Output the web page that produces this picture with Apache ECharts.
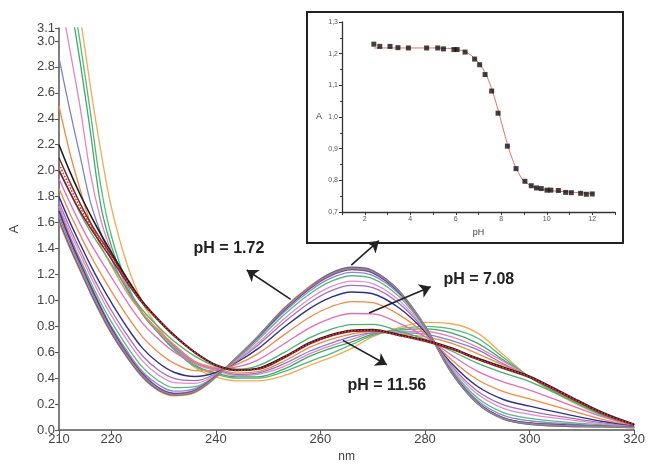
<!DOCTYPE html>
<html><head><meta charset="utf-8">
<script src="https://cdn.jsdelivr.net/npm/echarts@6/dist/echarts.min.js"></script>
<style>html,body{margin:0;padding:0;background:#fff}#c{width:648px;height:468px}</style>
</head><body><div id="c"></div>
<script>
// ---- main spectra: wavelength grid (nm)
const wavelengths = [210,212,214,216,218,220,223,226,229,232,236,240,244,248,253,258,262,266,270,275,280,285,290,295,300,307,314,320];

// acidic bundle (pH 1.72 ...)
const acid1 = [1.65,1.45,1.27,1.09,0.92,0.77,0.58,0.42,0.32,0.275,0.30,0.41,0.56,0.72,0.93,1.10,1.20,1.245,1.22,1.07,0.80,0.45,0.21,0.09,0.05,0.035,0.028,0.02];
const acid2 = [1.62,1.42,1.24,1.06,0.90,0.75,0.565,0.41,0.31,0.27,0.295,0.41,0.56,0.72,0.935,1.105,1.21,1.255,1.23,1.075,0.80,0.445,0.205,0.085,0.045,0.03,0.025,0.02];
const acid3 = [1.69,1.48,1.29,1.11,0.94,0.785,0.59,0.43,0.325,0.28,0.305,0.415,0.56,0.715,0.925,1.095,1.195,1.24,1.215,1.065,0.80,0.455,0.215,0.095,0.055,0.04,0.03,0.022];
const acid4 = [1.72,1.50,1.31,1.12,0.95,0.79,0.60,0.44,0.33,0.285,0.31,0.42,0.56,0.715,0.92,1.09,1.19,1.235,1.21,1.06,0.795,0.455,0.215,0.095,0.055,0.04,0.03,0.022];
const acid5 = [1.60,1.41,1.23,1.06,0.89,0.745,0.56,0.405,0.305,0.265,0.29,0.405,0.555,0.72,0.94,1.11,1.21,1.25,1.225,1.075,0.805,0.45,0.21,0.085,0.045,0.03,0.025,0.018];

// transition curves
const trans1 = [1.67,1.48,1.30,1.12,0.95,0.80,0.61,0.45,0.35,0.30,0.32,0.415,0.554,0.705,0.908,1.074,1.172,1.216,1.193,1.05,0.793,0.461,0.23,0.113,0.072,0.049,0.034,0.021];
const trans2 = [1.70,1.50,1.32,1.146,0.982,0.836,0.646,0.484,0.381,0.327,0.335,0.42,0.548,0.691,0.887,1.051,1.146,1.19,1.168,1.031,0.787,0.471,0.249,0.135,0.091,0.062,0.04,0.022];
const trans3 = [1.73,1.536,1.36,1.188,1.028,0.884,0.694,0.532,0.426,0.366,0.36,0.428,0.54,0.67,0.856,1.014,1.106,1.149,1.13,1.002,0.778,0.486,0.278,0.168,0.122,0.082,0.048,0.024];
const trans4 = [1.758,1.566,1.392,1.222,1.066,0.924,0.734,0.571,0.463,0.398,0.381,0.434,0.533,0.653,0.83,0.984,1.073,1.115,1.099,0.978,0.77,0.499,0.302,0.195,0.147,0.098,0.056,0.025];
const trans5 = [1.80,1.611,1.439,1.274,1.123,0.984,0.794,0.63,0.519,0.446,0.413,0.444,0.523,0.626,0.791,0.939,1.024,1.065,1.051,0.943,0.759,0.518,0.338,0.236,0.185,0.123,0.066,0.028];
const trans6 = [1.862,1.678,1.509,1.35,1.206,1.072,0.882,0.717,0.601,0.516,0.459,0.458,0.507,0.588,0.734,0.872,0.951,0.991,0.982,0.89,0.742,0.545,0.39,0.297,0.241,0.16,0.082,0.031];
const trans7 = [1.938,1.76,1.594,1.443,1.309,1.18,0.99,0.823,0.702,0.603,0.516,0.475,0.488,0.54,0.664,0.79,0.862,0.899,0.896,0.825,0.721,0.58,0.455,0.371,0.309,0.204,0.101,0.034];
const trans8 = [2.01,1.837,1.675,1.531,1.406,1.283,1.093,0.924,0.797,0.685,0.57,0.491,0.47,0.495,0.597,0.713,0.777,0.813,0.815,0.764,0.701,0.612,0.516,0.441,0.374,0.247,0.12,0.038];

// basic bundle (pH 11.56 ...)
const basic1 = [2.05,1.88,1.72,1.58,1.46,1.34,1.15,0.98,0.85,0.73,0.60,0.50,0.46,0.47,0.56,0.67,0.73,0.765,0.77,0.73,0.69,0.63,0.55,0.48,0.41,0.27,0.13,0.04];
const basic2 = [2.20,2.00,1.82,1.66,1.51,1.37,1.17,0.99,0.855,0.735,0.60,0.50,0.46,0.475,0.565,0.675,0.735,0.77,0.775,0.735,0.695,0.635,0.555,0.485,0.415,0.275,0.135,0.045];
const basic3 = [2.00,1.84,1.69,1.56,1.44,1.32,1.14,0.975,0.845,0.725,0.595,0.50,0.465,0.47,0.555,0.665,0.725,0.76,0.765,0.73,0.685,0.625,0.545,0.475,0.405,0.265,0.125,0.04];
const basic4 = [2.10,1.92,1.75,1.60,1.47,1.35,1.16,0.985,0.85,0.73,0.60,0.505,0.465,0.475,0.56,0.67,0.73,0.765,0.77,0.735,0.69,0.63,0.55,0.48,0.41,0.27,0.13,0.042];

// extreme curves
const extOrange  = [4.2,3.7,3.2,2.65,2.15,1.72,1.28,0.98,0.79,0.64,0.48,0.41,0.38,0.38,0.42,0.50,0.56,0.63,0.72,0.79,0.83,0.82,0.75,0.58,0.41,0.24,0.11,0.04];
const extGreen1  = [4.0,3.5,3.0,2.45,1.88,1.50,1.13,0.90,0.75,0.62,0.49,0.43,0.40,0.40,0.45,0.53,0.59,0.66,0.73,0.78,0.80,0.78,0.71,0.56,0.41,0.25,0.11,0.04];
const extGreen2  = [3.9,3.35,2.85,2.3,1.73,1.42,1.10,0.89,0.75,0.63,0.50,0.44,0.41,0.41,0.47,0.57,0.63,0.68,0.74,0.77,0.78,0.75,0.67,0.54,0.41,0.25,0.12,0.04];
const extPink    = [3.4,2.95,2.5,1.98,1.62,1.38,1.10,0.90,0.76,0.64,0.51,0.46,0.42,0.43,0.49,0.59,0.65,0.70,0.75,0.76,0.76,0.72,0.64,0.53,0.41,0.26,0.12,0.04];
const extBlue    = [2.87,2.48,2.12,1.76,1.52,1.32,1.08,0.90,0.77,0.65,0.52,0.47,0.43,0.44,0.51,0.61,0.67,0.72,0.75,0.75,0.74,0.69,0.62,0.51,0.41,0.26,0.12,0.04];
const extOrange2 = [2.5,2.15,1.86,1.60,1.42,1.27,1.06,0.90,0.77,0.66,0.53,0.48,0.44,0.45,0.53,0.64,0.70,0.74,0.76,0.74,0.72,0.67,0.59,0.50,0.41,0.26,0.13,0.04];

// axis ticks
const xTicks = [210,220,240,260,280,300,320];
const yTicks = [0,0.2,0.4,0.6,0.8,1.0,1.2,1.4,1.6,1.8,2.0,2.2,2.4,2.6,2.8,3.0,3.1];

// ---- inset: titration curve
const insetPH = [2.40,2.66,3.11,3.46,3.92,4.72,5.21,5.46,5.92,6.06,6.41,6.83,7.05,7.29,7.58,7.86,8.27,8.65,9.04,9.32,9.55,9.76,10.01,10.18,10.51,10.83,11.08,11.49,11.74,12.00];
const insetA  = [1.230,1.223,1.223,1.219,1.218,1.218,1.218,1.215,1.213,1.213,1.205,1.183,1.165,1.134,1.082,1.012,0.908,0.837,0.797,0.783,0.776,0.774,0.769,0.769,0.768,0.762,0.761,0.759,0.756,0.757];
const fitPH = [2.4,3,4,5,5.5,6,6.5,7,7.25,7.5,7.75,8,8.25,8.5,8.75,9,9.5,10,11,12.1];
const fitA  = [1.218,1.218,1.218,1.218,1.217,1.214,1.203,1.172,1.145,1.105,1.05,0.985,0.92,0.865,0.825,0.798,0.777,0.769,0.763,0.758];

// annotations (data coordinates)
const labelTexts = ['pH = 1.72','pH = 7.08','pH = 11.56'];
const labelPos = [[242.5,1.40],[290.3,1.16],[272.7,0.345]];
const arrows = [
  [[254.3,1.008],[245.9,1.234]],
  [[265.9,1.272],[271.2,1.46]],
  [[269.3,0.903],[281.1,1.106]],
  [[264.3,0.692],[272.7,0.504]]
];

const curveDefs = [
  [extOrange,'#f5a855',1.3,'solid'],
  [extGreen1,'#55b87a',1.3,'solid'],
  [extGreen2,'#3fa866',1.3,'solid'],
  [extPink,'#e585c0',1.3,'solid'],
  [extBlue,'#7c80d6',1.3,'solid'],
  [extOrange2,'#f08a45',1.3,'solid'],
  [trans8,'#4bb070',1.3,'solid'],
  [trans7,'#e070b5',1.3,'solid'],
  [trans6,'#f08a48',1.3,'solid'],
  [trans5,'#2e3282',1.4,'solid'],
  [trans4,'#a070c0',1.3,'solid'],
  [trans3,'#e58cc8',1.3,'solid'],
  [trans2,'#5cb880',1.3,'solid'],
  [trans1,'#8c88d0',1.3,'solid'],
  [acid5,'#f0a050',1.4,'solid'],
  [acid4,'#c878b0',1.4,'solid'],
  [acid3,'#3a3a88',1.4,'solid'],
  [acid2,'#7a5a9c',1.5,'solid'],
  [acid1,'#8a8a8a',1.6,'solid'],
  [basic4,'#6a3434',1.5,'solid'],
  [basic3,'#8a1a2a',1.5,'solid'],
  [basic2,'#1e1e1e',1.6,'solid'],
  [basic1,'#e03838',1.6,'dotted']
];

const series = curveDefs.map(([vals,color,w,type]) => ({
  type:'line', xAxisIndex:0, yAxisIndex:0, smooth:0.35, symbol:'none', silent:true,
  data: wavelengths.map((x,i)=>[x, vals[i]]),
  lineStyle:{color, width:w, type}, clip:true
}));

series.push({
  type:'line', xAxisIndex:0, yAxisIndex:0, data:[], symbol:'none', silent:true, z:10,
  markLine:{
    silent:true, symbol:['none','arrow'], symbolSize:11, animation:false,
    label:{show:false},
    lineStyle:{color:'#222', width:1.6, type:'solid'},
    data: arrows.map(a=>[{coord:a[0]},{coord:a[1]}])
  },
  markPoint:{
    silent:true, symbol:'circle', symbolSize:1, itemStyle:{color:'rgba(0,0,0,0)'},
    label:{show:true, position:'inside', fontFamily:'Liberation Sans, Arial, sans-serif', fontWeight:'bold', fontSize:16, color:'#222'},
    data: labelTexts.map((t,i)=>({coord:labelPos[i], value:t, label:{formatter:t}}))
  }
});

// inset series
series.push({
  type:'line', xAxisIndex:1, yAxisIndex:1, smooth:0.4, symbol:'none', silent:true,
  data: fitPH.map((p,i)=>[p, fitA[i]]),
  lineStyle:{color:'#e8706a', width:1}, z:5
});
series.push({
  type:'scatter', xAxisIndex:1, yAxisIndex:1, symbol:'rect', symbolSize:5, silent:true,
  data: insetPH.map((p,i)=>[p, insetA[i]]),
  itemStyle:{color:'#111'}, z:6
});

const axisFont = 'Liberation Sans Narrow, Arial Narrow, Liberation Sans, sans-serif';

const option = {
  animation:false,
  backgroundColor:'#ffffff',
  graphic:[{
    type:'rect', shape:{x:307,y:12,width:316,height:231},
    style:{fill:'rgba(0,0,0,0)', stroke:'#222', lineWidth:2}, z:-10, silent:true
  }],
  grid:[
    {left:54, right:8, top:28, bottom:28},
    {left:342, right:33, top:22, bottom:256}
  ],
  xAxis:[
    {type:'value', gridIndex:0, min:210, max:320,
     name:'nm', nameLocation:'middle', nameGap:15,
     nameTextStyle:{fontFamily:axisFont, fontSize:12, color:'#444'},
     axisLine:{lineStyle:{color:'#555', width:1.5}},
     axisTick:{show:true, length:4, customValues:xTicks, lineStyle:{color:'#555'}},
     axisLabel:{customValues:xTicks, fontFamily:axisFont, fontSize:13, color:'#444', margin:3},
     splitLine:{show:false}},
    {type:'value', gridIndex:1, min:1, max:13, interval:1,
     name:'pH', nameLocation:'middle', nameGap:16,
     nameTextStyle:{fontFamily:'Liberation Sans, Arial, sans-serif', fontSize:9, color:'#444'},
     axisLine:{lineStyle:{color:'#333', width:1.3}},
     axisTick:{show:true, length:3, lineStyle:{color:'#333'}},
     axisLabel:{fontFamily:'Liberation Sans, Arial, sans-serif', fontSize:7, color:'#555', margin:4,
       formatter:v=> (v%2===0 ? String(v) : '')},
     splitLine:{show:false}}
  ],
  yAxis:[
    {type:'value', gridIndex:0, min:0, max:3.1,
     name:'A', nameLocation:'middle', nameGap:38, nameRotate:90,
     nameTextStyle:{fontFamily:axisFont, fontSize:13, color:'#444'},
     axisLine:{show:true, lineStyle:{color:'#555', width:1.5}},
     axisTick:{show:true, length:4, customValues:yTicks, lineStyle:{color:'#555'}},
     axisLabel:{customValues:yTicks, fontFamily:axisFont, fontSize:13, color:'#444', margin:4,
       formatter:v=>v.toFixed(1)},
     splitLine:{show:false}},
    {type:'value', gridIndex:1, min:0.7, max:1.3, interval:0.1,
     name:'A', nameLocation:'middle', nameGap:20, nameRotate:0,
     nameTextStyle:{fontFamily:'Liberation Sans, Arial, sans-serif', fontSize:9, color:'#444'},
     axisLine:{show:true, lineStyle:{color:'#333', width:1.3}},
     axisTick:{show:true, length:3, lineStyle:{color:'#333'}},
     minorTick:{show:true, splitNumber:2, length:2, lineStyle:{color:'#333'}},
     axisLabel:{fontFamily:'Liberation Sans, Arial, sans-serif', fontSize:7, color:'#555', margin:4,
       formatter:v=>v.toFixed(1).replace('.',',')},
     splitLine:{show:false}}
  ],
  series
};

const chart = echarts.init(document.getElementById('c'), null, {renderer:'canvas'});
chart.setOption(option);
</script></body></html>
